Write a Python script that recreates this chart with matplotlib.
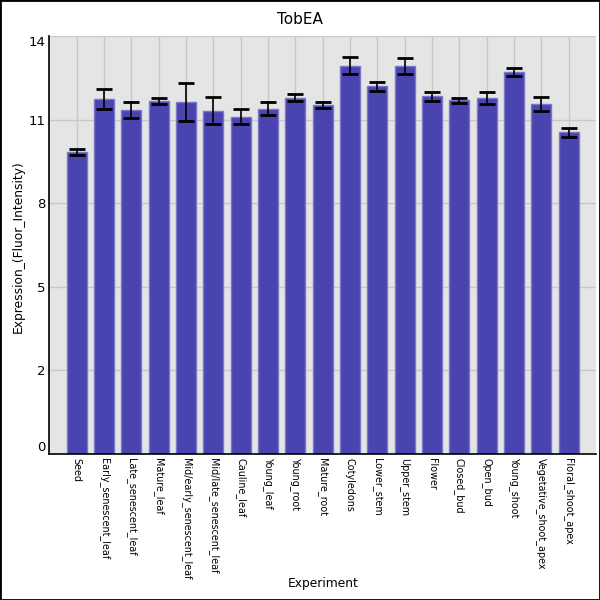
import matplotlib
matplotlib.use("Agg")
import matplotlib.pyplot as plt
import numpy as np

categories = ["Seed", "Early_senescent_leaf", "Late_senescent_leaf", "Mature_leaf",
              "Mid/early_senescent_leaf", "Mid/late_senescent_leaf", "Cauline_leaf",
              "Young_leaf", "Young_root", "Mature_root", "Cotyledons", "Lower_stem",
              "Upper_stem", "Flower", "Closed_bud", "Open_bud", "Young_shoot",
              "Vegetative_shoot_apex", "Floral_shoot_apex"]
values = [10.11, 11.89, 11.52, 11.83, 11.80, 11.50, 11.30, 11.57, 11.94, 11.68,
          13.01, 12.31, 12.99, 11.98, 11.85, 11.92, 12.79, 11.72, 10.77]
errors = [0.09, 0.35, 0.27, 0.11, 0.64, 0.46, 0.26, 0.21, 0.11, 0.10,
          0.28, 0.15, 0.27, 0.15, 0.08, 0.20, 0.14, 0.23, 0.16]
ytick_vals = [0, 2.8, 5.6, 8.4, 11.2, 14]
ytick_labels = ["0", "2", "5", "8", "11", "14"]

fig = plt.figure(figsize=(6, 6), dpi=100)
fig.patch.set_facecolor("white")
ax = fig.add_axes([49.3/600, 146/600, 546.7/600, 418/600])
ax.set_facecolor("#e5e5e5")

x = np.arange(len(categories))
ax.set_axisbelow(True)
ax.grid(True, color="#c8c8c8", linewidth=1)
ax.bar(x, values, width=0.74, color="#4a44b1", edgecolor="#7a76c8", linewidth=1, zorder=2)
ax.errorbar(x, values, yerr=errors, fmt="none", ecolor="black", elinewidth=1.2,
            capsize=5.5, capthick=2, zorder=3)

ax.set_xlim(-1, len(categories))
ax.set_ylim(0, 14)
ax.set_xticks(x)
ax.set_xticklabels(categories, rotation=270, fontsize=6.9, va="top", ha="center")
ax.set_yticks(ytick_vals)
ax.set_yticklabels(ytick_labels, fontsize=9.5)
ylabs = ax.get_yticklabels()
ylabs[0].set_va("bottom")
ylabs[-1].set_va("top")
ax.tick_params(axis="both", length=0, pad=3)

for s in ["top", "right"]:
    ax.spines[s].set_visible(False)
for s in ["left", "bottom"]:
    ax.spines[s].set_color("black")
    ax.spines[s].set_linewidth(1.2)

fig.text(18/600, 245/600 if False else 1 - 247/600, "Expression_(Fluor_Intensity)",
         rotation=90, ha="center", va="center", fontsize=8.8)
fig.text(323.5/600, 1 - 584/600, "Experiment", ha="center", va="center", fontsize=8.8)
fig.text(0.5, 1 - 20/600, "TobEA", ha="center", va="center", fontsize=11)

border = plt.Rectangle((0, 0), 1, 1, transform=fig.transFigure, fill=False,
                       edgecolor="black", linewidth=2, zorder=10)
fig.patches.append(border)

fig.savefig("out.png", dpi=100)
